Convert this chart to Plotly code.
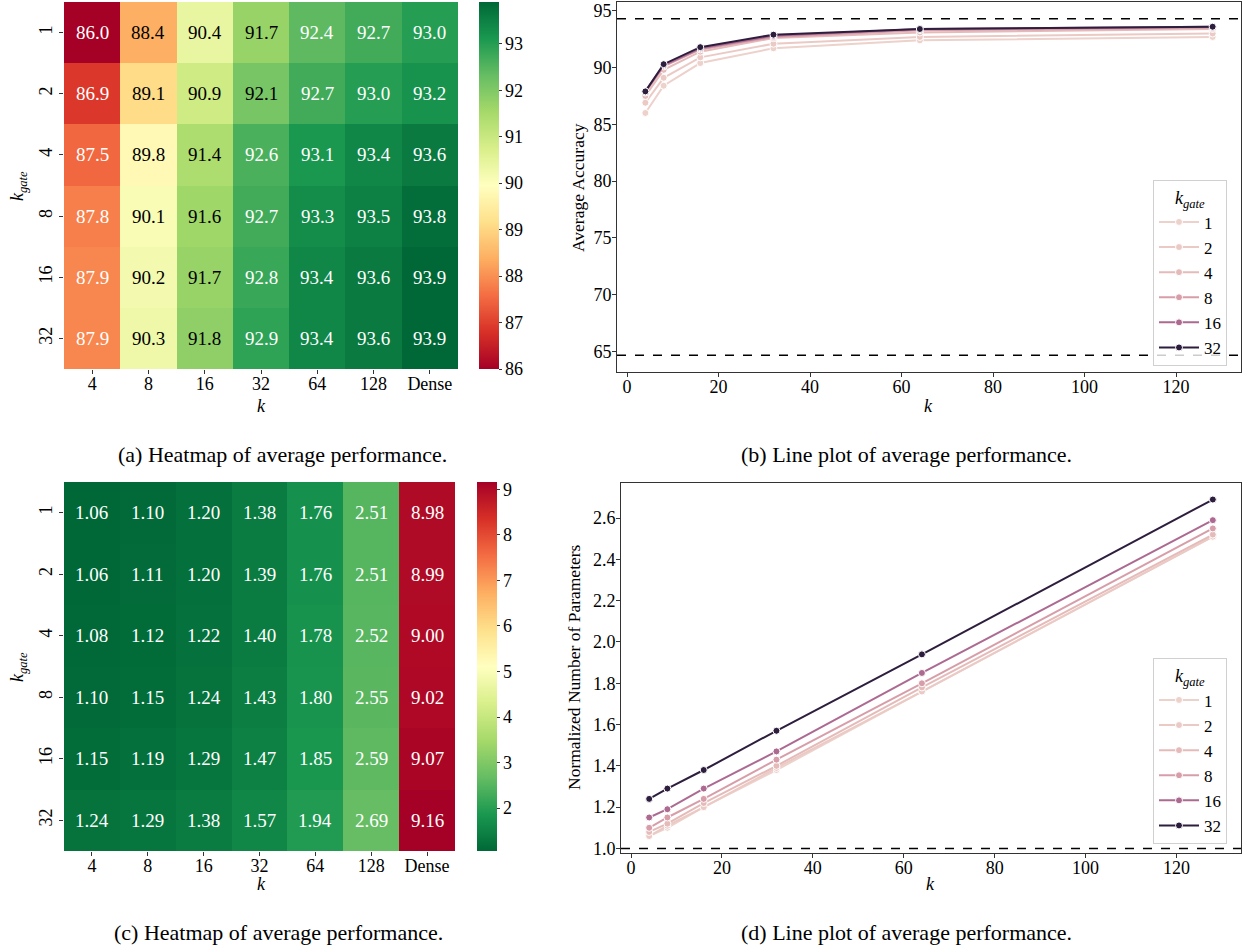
import numpy as np
import plotly.graph_objects as go
import plotly.colors as pc

# ---------------- data ----------------
k_labels = ["4", "8", "16", "32", "64", "128", "Dense"]
kgate_labels = ["1", "2", "4", "8", "16", "32"]
k_values = [4, 8, 16, 32, 64, 128]
kgate_values = [1, 2, 4, 8, 16, 32]

acc = [
    [86.0, 88.4, 90.4, 91.7, 92.4, 92.7, 93.0],
    [86.9, 89.1, 90.9, 92.1, 92.7, 93.0, 93.2],
    [87.5, 89.8, 91.4, 92.6, 93.1, 93.4, 93.6],
    [87.8, 90.1, 91.6, 92.7, 93.3, 93.5, 93.8],
    [87.9, 90.2, 91.7, 92.8, 93.4, 93.6, 93.9],
    [87.9, 90.3, 91.8, 92.9, 93.4, 93.6, 93.9],
]
params = [
    [1.06, 1.10, 1.20, 1.38, 1.76, 2.51, 8.98],
    [1.06, 1.11, 1.20, 1.39, 1.76, 2.51, 8.99],
    [1.08, 1.12, 1.22, 1.40, 1.78, 2.52, 9.00],
    [1.10, 1.15, 1.24, 1.43, 1.80, 2.55, 9.02],
    [1.15, 1.19, 1.29, 1.47, 1.85, 2.59, 9.07],
    [1.24, 1.29, 1.38, 1.57, 1.94, 2.69, 9.16],
]
acc_ref_lines = [94.3, 64.65]
param_ref_lines = [1.0]

captions = [
    "(a) Heatmap of average performance.",
    "(b) Line plot of average performance.",
    "(c) Heatmap of average performance.",
    "(d) Line plot of average performance.",
]

# ---------------- style helpers ----------------
W, H = 1247, 949
FONT = "Liberation Serif"
AX = "#333333"


def dx(a, b):
    return [a / W, b / W]


def dy(top, bottom):
    return [1 - bottom / H, 1 - top / H]


def cubehelix(x, start=0.0, rot=0.4, gamma=1.0, hue=0.8):
    xg = x ** gamma
    a = hue * xg * (1 - xg) / 2
    phi = 2 * np.pi * (start / 3 + rot * x)
    r = xg + a * (-0.14861 * np.cos(phi) + 1.78277 * np.sin(phi))
    g = xg + a * (-0.29227 * np.cos(phi) - 0.90649 * np.sin(phi))
    b = xg + a * (1.97294 * np.cos(phi))
    c = [int(round(255 * min(max(v, 0), 1))) for v in (r, g, b)]
    return "rgb(%d,%d,%d)" % tuple(c)


def hue_color(v):
    t = (v - min(kgate_values)) / (max(kgate_values) - min(kgate_values))
    return cubehelix(0.85 - 0.7 * t)


def lum_text_color(scale, v, vmin, vmax):
    c = pc.sample_colorscale(pc.get_colorscale(scale), [(v - vmin) / (vmax - vmin)])[0]
    rgb = pc.unlabel_rgb(c)
    lin = []
    for x in rgb:
        x = x / 255.0
        lin.append(x / 12.92 if x <= 0.03928 else ((x + 0.055) / 1.055) ** 2.4)
    L = 0.2126 * lin[0] + 0.7152 * lin[1] + 0.0722 * lin[2]
    return "black" if L > 0.408 else "white"


fig = go.Figure()
annotations = []
xi = list(range(len(k_labels)))
yi = list(range(len(kgate_labels)))

# ---------------- heatmaps ----------------
for (z, scale, fmt, xa, ya, cb_x, top, bottom, cbticks) in [
    (acc, "RdYlGn", "{:.1f}", "x", "y", 479, 2, 369, list(range(86, 94))),
    (params, "RdYlGn_r", "{:.2f}", "x3", "y3", 477, 482, 851, list(range(2, 10))),
]:
    flat = [v for row in z for v in row]
    vmin, vmax = min(flat), max(flat)
    fig.add_trace(go.Heatmap(
        z=z, x=xi, y=yi, xaxis=xa, yaxis=ya,
        colorscale=scale, zmin=vmin, zmax=vmax, showscale=True,
        hoverinfo="skip",
        colorbar=dict(
            x=cb_x / W, xanchor="left", y=1 - top / H, yanchor="top",
            len=(bottom - top) / H, lenmode="fraction",
            thickness=20, thicknessmode="pixels", xpad=0, ypad=0,
            outlinewidth=0, ticks="outside", ticklen=3, tickcolor=AX,
            tickvals=cbticks, tickfont=dict(family=FONT, size=18, color="black"),
        ),
    ))
    for i, row in enumerate(z):
        for j, v in enumerate(row):
            annotations.append(dict(
                x=xi[j], y=yi[i], xref=xa, yref=ya,
                text=fmt.format(v), showarrow=False,
                font=dict(family=FONT, size=19, color=lum_text_color(scale, v, vmin, vmax)),
            ))

# ---------------- line plots ----------------
for (data, xa, ya, leg) in [
    (acc, "x2", "y2", "legend"),
    (params, "x4", "y4", "legend2"),
]:
    for i, kg in enumerate(kgate_values):
        col = hue_color(kg)
        fig.add_trace(go.Scatter(
            x=k_values, y=data[i][:len(k_values)], xaxis=xa, yaxis=ya,
            mode="lines+markers", name=str(kg), legend=leg,
            line=dict(color=col, width=2),
            marker=dict(color=col, size=7, line=dict(color="white", width=1)),
            hoverinfo="skip",
        ))

shapes = []
for v in acc_ref_lines:
    shapes.append(dict(type="line", xref="x2 domain", yref="y2", x0=0, x1=1, y0=v, y1=v,
                       line=dict(color="black", width=1.5, dash="dash")))
for v in param_ref_lines:
    shapes.append(dict(type="line", xref="x4 domain", yref="y4", x0=0, x1=1, y0=v, y1=v,
                       line=dict(color="black", width=1.5, dash="dash")))

# ---------------- axis titles & captions ----------------
kgate_title = "<i>k</i><sub><i>gate</i></sub>"
for (tx, ty, txt, ang, sz) in [
    (18, 186, kgate_title, -90, 18),
    (18, 667, kgate_title, -90, 18),
    (261, 406, "<i>k</i>", 0, 18),
    (261, 884, "<i>k</i>", 0, 18),
    (578, 188, "Average Accuracy", -90, 17.5),
    (574, 667, "Normalized Number of Parameters", -90, 17.5),
    (928, 406, "<i>k</i>", 0, 18),
    (931, 884, "<i>k</i>", 0, 18),
]:
    annotations.append(dict(x=tx / W, y=1 - ty / H, xref="paper", yref="paper", text=txt,
                            textangle=ang, showarrow=False, xanchor="center", yanchor="middle",
                            font=dict(family=FONT, size=sz, color="black")))

for (cx, cy), txt in zip([(282, 455), (906, 455), (278, 932), (906, 932)], captions):
    annotations.append(dict(x=cx / W, y=1 - cy / H, xref="paper", yref="paper", text=txt,
                            showarrow=False, xanchor="center", yanchor="middle",
                            font=dict(family=FONT, size=22, color="black")))

tickfont = dict(family=FONT, size=18, color="black")
heat_x = dict(range=[-0.5, len(k_labels) - 0.5], tickvals=xi, ticktext=k_labels,
              ticks="outside", ticklen=4, tickcolor=AX, showline=False, showgrid=False,
              zeroline=False, tickfont=tickfont, ticklabelstandoff=-6)
heat_y = dict(range=[len(kgate_labels) - 0.5, -0.5], tickvals=yi, ticktext=kgate_labels,
              ticks="outside", ticklen=4, tickcolor=AX, showline=False,
              showgrid=False, zeroline=False, tickangle=-90, tickfont=tickfont)
line_ax = dict(showline=True, mirror=True, linecolor=AX, linewidth=1, ticks="outside",
               ticklen=4, tickcolor=AX, showgrid=False, zeroline=False, tickfont=tickfont)

legend_common = dict(xanchor="right", yanchor="top", bgcolor="rgba(255,255,255,0.8)",
                     bordercolor="#d0d0d0", borderwidth=1, itemwidth=40,
                     font=dict(family=FONT, size=17, color="black"),
                     title=dict(text=kgate_title, side="top center",
                                font=dict(family=FONT, size=18, color="black")))

fig.update_layout(
    width=W, height=H, autosize=False,
    margin=dict(l=0, r=0, t=0, b=0, autoexpand=False),
    paper_bgcolor="white", plot_bgcolor="white",
    font=dict(family=FONT, color="black"),
    xaxis=dict(heat_x, domain=dx(64, 458), anchor="y"),
    yaxis=dict(heat_y, domain=dy(2, 369), anchor="x"),
    xaxis3=dict(heat_x, domain=dx(64, 455), anchor="y3"),
    yaxis3=dict(heat_y, domain=dy(482, 851), anchor="x3"),
    xaxis2=dict(line_ax, domain=dx(617, 1241), anchor="y2", range=[-2.2, 134.2],
                tickvals=[0, 20, 40, 60, 80, 100, 120], ticklabelstandoff=-6),
    yaxis2=dict(line_ax, domain=dy(2, 372), anchor="x2", range=[63.17, 95.78],
                tickvals=[65, 70, 75, 80, 85, 90, 95], ticklabelstandoff=-3),
    xaxis4=dict(line_ax, domain=dx(621, 1241), anchor="y4", range=[-2.2, 134.2],
                tickvals=[0, 20, 40, 60, 80, 100, 120], ticklabelstandoff=-6),
    yaxis4=dict(line_ax, domain=dy(483, 853), anchor="x4", range=[0.978, 2.77],
                tickvals=[1.0, 1.2, 1.4, 1.6, 1.8, 2.0, 2.2, 2.4, 2.6], tickformat=".1f",
                ticklabelstandoff=-3),
    legend=dict(legend_common, x=1227 / W, y=1 - 180 / H),
    legend2=dict(legend_common, x=1227 / W, y=1 - 658 / H),
    shapes=shapes,
    annotations=annotations,
)

fig.write_html("out.html", config={"displayModeBar": False},
               post_script="document.body.style.margin='0px';document.body.style.overflow='hidden';")
